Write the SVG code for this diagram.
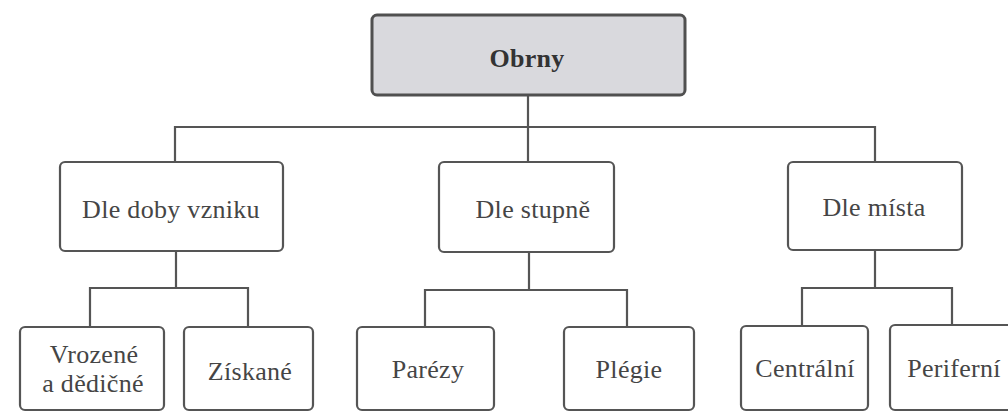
<svg xmlns="http://www.w3.org/2000/svg" width="1008" height="412" viewBox="0 0 1008 412">
<style>
.box{fill:#ffffff;stroke:#555555;stroke-width:2.2}
.root{fill:#d9d9dd;stroke:#505050;stroke-width:3}
.ln{fill:none;stroke:#555555;stroke-width:2.2}
text{font-family:"Liberation Serif","Times New Roman",serif;font-size:26px;fill:#454545;text-anchor:middle;letter-spacing:0.3px}
.b{font-weight:bold;font-size:26px;fill:#333333}
</style>
<rect x="0" y="0" width="1008" height="412" fill="#ffffff"/>
<g id="connectors">
<path class="ln" d="M528 95 V127 M175 162 V127 H875 V162 M528 127 V162"/>
<path class="ln" d="M176 251 V288 M90 327 V288 H248 V327"/>
<path class="ln" d="M529 252 V290 M425 327 V290 H627 V327"/>
<path class="ln" d="M875 250 V288 M802 326 V288 H952 V325"/>
</g>
<g id="obrny"><rect class="root" x="372" y="15" width="313" height="80" rx="5"/><text class="b" x="527" y="67">Obrny</text></g>
<g id="dle-doby-vzniku"><rect class="box" x="60" y="162" width="223" height="89" rx="5"/><text x="171" y="218">Dle doby vzniku</text></g>
<g id="dle-stupne"><rect class="box" x="439" y="162" width="175" height="90" rx="5"/><text x="533" y="218">Dle stupně</text></g>
<g id="dle-mista"><rect class="box" x="788" y="162" width="174" height="88" rx="5"/><text x="874" y="216">Dle místa</text></g>
<g id="vrozene"><rect class="box" x="20" y="327" width="144" height="83" rx="5"/><text x="94" y="363">Vrozené</text><text x="93" y="392">a dědičné</text></g>
<g id="ziskane"><rect class="box" x="184" y="327" width="129" height="83" rx="5"/><text x="250" y="380">Získané</text></g>
<g id="parezy"><rect class="box" x="357" y="327" width="137" height="83" rx="5"/><text x="428" y="378">Parézy</text></g>
<g id="plegie"><rect class="box" x="564" y="327" width="130" height="83" rx="5"/><text x="629" y="378">Plégie</text></g>
<g id="centralni"><rect class="box" x="741" y="326" width="127" height="84" rx="5"/><text x="805" y="377">Centrální</text></g>
<g id="periferni"><rect class="box" x="890" y="325" width="125" height="85" rx="5"/><text x="954" y="377">Periferní</text></g>
</svg>
